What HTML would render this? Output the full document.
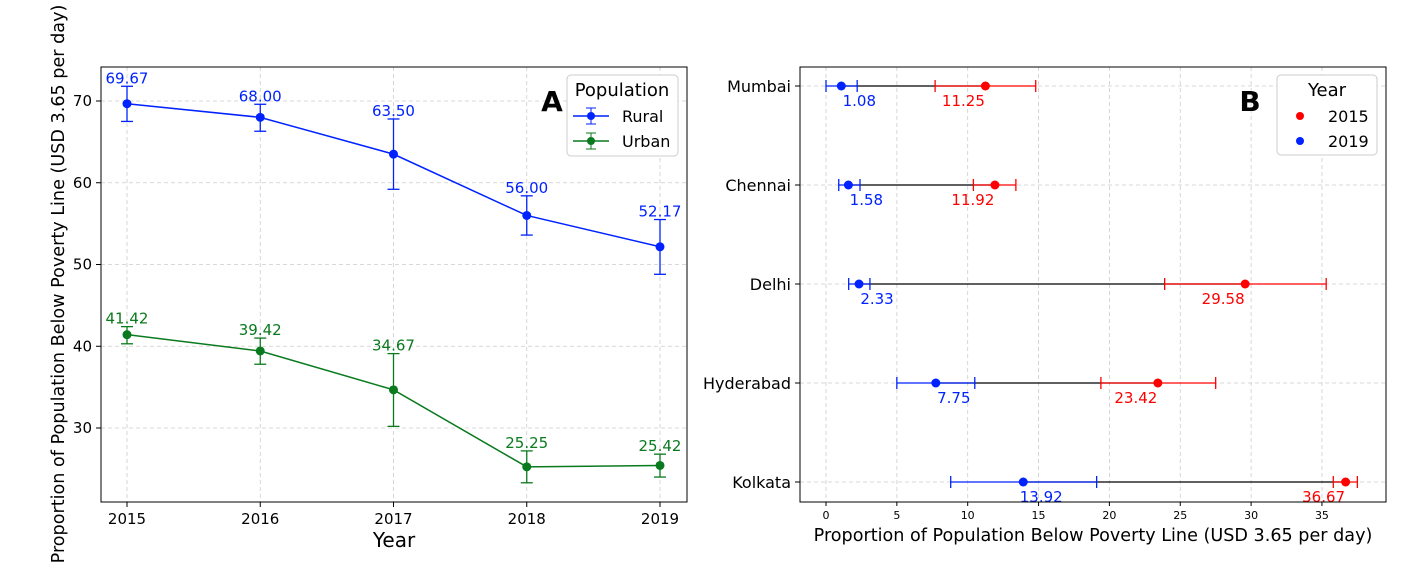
<!DOCTYPE html>
<html><head><meta charset="utf-8">
<style>
body{margin:0;background:#fff;font-family:"Liberation Sans","DejaVu Sans",sans-serif;}
svg text{font-family:"DejaVu Sans","Liberation Sans",sans-serif;}
</style></head>
<body>
<svg id="c" width="1402" height="574" xmlns="http://www.w3.org/2000/svg"></svg>
<script>
const years=[2015,2016,2017,2018,2019];
const rural=[69.67,68.00,63.50,56.00,52.17];
const ruralLo=[67.5,66.3,59.2,53.6,48.8];
const ruralHi=[71.8,69.6,67.8,58.4,55.5];
const urban=[41.42,39.42,34.67,25.25,25.42];
const urbanLo=[40.3,37.8,30.2,23.3,24.0];
const urbanHi=[42.4,41.0,39.1,27.2,26.8];
const yTicksA=[30,40,50,60,70];
const cities=["Mumbai","Chennai","Delhi","Hyderabad","Kolkata"];
const v2019=[1.08,1.58,2.33,7.75,13.92];
const lo2019=[0.0,0.9,1.6,5.0,8.8];
const hi2019=[2.2,2.4,3.1,10.5,19.1];
const v2015=[11.25,11.92,29.58,23.42,36.67];
const lo2015=[7.7,10.4,23.9,19.4,35.8];
const hi2015=[14.8,13.4,35.3,27.5,37.5];
const xTicksB=[0,5,10,15,20,25,30,35];

const svg=document.getElementById('c');
const NS="http://www.w3.org/2000/svg";
function mk(tag,attrs,parent,name){const e=document.createElementNS(NS,tag);for(const k in attrs)e.setAttribute(k,attrs[k]);


(parent||svg).appendChild(e);return e;}
function txt(x,y,s,attrs,name){const t=mk('text',Object.assign({x:x,y:y},attrs),svg,name);t.textContent=s;return t;}

const axL=101,axR=687,axT=67,axB=502;
const xA=v=>127+(v-2015)*133.25;
const yA=v=>101+(70-v)*8.175;
yTicksA.forEach(t=>{mk('line',{x1:axL,x2:axR,y1:yA(t),y2:yA(t),stroke:'#ccc','stroke-dasharray':'4,3','stroke-width':0.8},svg,'grid-y');
mk('line',{x1:axL-5,x2:axL,y1:yA(t),y2:yA(t),stroke:'#000'},svg,'tick-y');
txt(axL-9,yA(t)+5,String(t),{'text-anchor':'end','font-size':15},'y-tick-label');});
years.forEach(y=>{mk('line',{x1:xA(y),x2:xA(y),y1:axT,y2:axB,stroke:'#ccc','stroke-dasharray':'4,3','stroke-width':0.8},svg,'grid-x');
mk('line',{x1:xA(y),x2:xA(y),y1:axB,y2:axB+5,stroke:'#000'},svg,'tick-x');
txt(xA(y),axB+22,String(y),{'text-anchor':'middle','font-size':15},'x-tick-label');});
function seriesA(vals,lo,hi,col,name){
 mk('polyline',{points:vals.map((v,i)=>xA(years[i])+','+yA(v)).join(' '),fill:'none',stroke:col,'stroke-width':1.5},svg,name+'-line');
 vals.forEach((v,i)=>{const x=xA(years[i]);
  mk('line',{x1:x,x2:x,y1:yA(lo[i]),y2:yA(hi[i]),stroke:col,'stroke-width':1.3},svg,name+'-errorbar');
  mk('line',{x1:x-6,x2:x+6,y1:yA(lo[i]),y2:yA(lo[i]),stroke:col,'stroke-width':1.3},svg,name+'-errorcap');
  mk('line',{x1:x-6,x2:x+6,y1:yA(hi[i]),y2:yA(hi[i]),stroke:col,'stroke-width':1.3},svg,name+'-errorcap');
  mk('circle',{cx:x,cy:yA(v),r:4.5,fill:col},svg,name+'-point');
  txt(x,yA(hi[i])-3,v.toFixed(2),{'text-anchor':'middle','font-size':15,fill:col},name+'-value-label');});
}
seriesA(rural,ruralLo,ruralHi,'#0022ff','rural');
seriesA(urban,urbanLo,urbanHi,'#0a7a1e','urban');
mk('rect',{x:axL,y:axT,width:axR-axL,height:axB-axT,fill:'none',stroke:'#000','stroke-width':1},svg,'plot-frame-a');
txt(394,547,'Year',{'text-anchor':'middle','font-size':20},'x-axis-title-a');
txt(0,0,'Proportion of Population Below Poverty Line (USD 3.65 per day)',{'text-anchor':'middle','font-size':17.6,transform:'translate(64,284) rotate(-90)'},'y-axis-title-a');
txt(552,111,'A',{'text-anchor':'middle','font-size':28,'font-weight':'bold'},'panel-label-a');
mk('rect',{x:567,y:75,width:111,height:81,rx:4,fill:'#fff',stroke:'#ccc'},svg,'legend-a');
txt(622,96,'Population',{'text-anchor':'middle','font-size':18},'legend-title');
[['Rural','#0022ff',116],['Urban','#0a7a1e',141]].forEach(([n,c,y])=>{
 mk('line',{x1:573,x2:609,y1:y,y2:y,stroke:c,'stroke-width':1.5},svg,'legend-line');
 mk('line',{x1:591,x2:591,y1:y-8,y2:y+8,stroke:c},svg,'legend-errorbar');
 mk('line',{x1:586,x2:596,y1:y-8,y2:y-8,stroke:c},svg,'legend-errorcap');
 mk('line',{x1:586,x2:596,y1:y+8,y2:y+8,stroke:c},svg,'legend-errorcap');
 mk('circle',{cx:591,cy:y,r:4,fill:c},svg,'legend-marker');
 txt(622,y+6,n,{'font-size':16},'legend-entry');});

const bL=800,bR=1386,bT=67,bB=502;
const xB=v=>826+v*14.17;
const yB=i=>86+i*99;
xTicksB.forEach(t=>{mk('line',{x1:xB(t),x2:xB(t),y1:bT,y2:bB,stroke:'#ccc','stroke-dasharray':'4,3','stroke-width':0.8},svg,'grid-x-b');
mk('line',{x1:xB(t),x2:xB(t),y1:bB,y2:bB+4,stroke:'#000'},svg,'tick-x-b');
txt(xB(t),bB+17,String(t),{'text-anchor':'middle','font-size':11},'x-tick-label-b');});
cities.forEach((c,i)=>{const y=yB(i);
 mk('line',{x1:bL,x2:bR,y1:y,y2:y,stroke:'#ccc','stroke-dasharray':'4,3','stroke-width':0.8},svg,'grid-y-b');
 mk('line',{x1:bL-5,x2:bL,y1:y,y2:y,stroke:'#000'},svg,'tick-y-b');
 txt(bL-9,y+6,c,{'text-anchor':'end','font-size':16},'city-label');
 mk('line',{x1:xB(v2019[i]),x2:xB(v2015[i]),y1:y,y2:y,stroke:'#000','stroke-width':1.2},svg,'change-line');
 [[v2015,lo2015,hi2015,'#ff0000','2015'],[v2019,lo2019,hi2019,'#0022ff','2019']].forEach(([v,lo,hi,col,yr])=>{
  mk('line',{x1:xB(lo[i]),x2:xB(hi[i]),y1:y,y2:y,stroke:col,'stroke-width':1.3},svg,'errorbar-'+yr);
  mk('line',{x1:xB(lo[i]),x2:xB(lo[i]),y1:y-6,y2:y+6,stroke:col,'stroke-width':1.3},svg,'errorcap-'+yr);
  mk('line',{x1:xB(hi[i]),x2:xB(hi[i]),y1:y-6,y2:y+6,stroke:col,'stroke-width':1.3},svg,'errorcap-'+yr);
  mk('circle',{cx:xB(v[i]),cy:y,r:4.5,fill:col},svg,'point-'+yr);});
 txt(xB(v2019[i])+18,y+20,v2019[i].toFixed(2),{'text-anchor':'middle','font-size':15,fill:'#0022ff'},'value-label-2019');
 txt(xB(v2015[i])-22,y+20,v2015[i].toFixed(2),{'text-anchor':'middle','font-size':15,fill:'#ff0000'},'value-label-2015');
});
mk('rect',{x:bL,y:bT,width:bR-bL,height:bB-bT,fill:'none',stroke:'#000','stroke-width':1},svg,'plot-frame-b');
txt(1093,541,'Proportion of Population Below Poverty Line (USD 3.65 per day)',{'text-anchor':'middle','font-size':17.6},'x-axis-title-b');
txt(1250,111,'B',{'text-anchor':'middle','font-size':28,'font-weight':'bold'},'panel-label-b');
mk('rect',{x:1277,y:75,width:100,height:80,rx:4,fill:'#fff',stroke:'#ccc'},svg,'legend-b');
txt(1327,96,'Year',{'text-anchor':'middle','font-size':18},'legend-title-b');
[['2015','#ff0000',116],['2019','#0022ff',141]].forEach(([n,c,y])=>{
 mk('circle',{cx:1300,cy:y,r:4,fill:c},svg,'legend-marker-b');
 txt(1328,y+6,n,{'font-size':16},'legend-entry-b');});
</script>
</body></html>
